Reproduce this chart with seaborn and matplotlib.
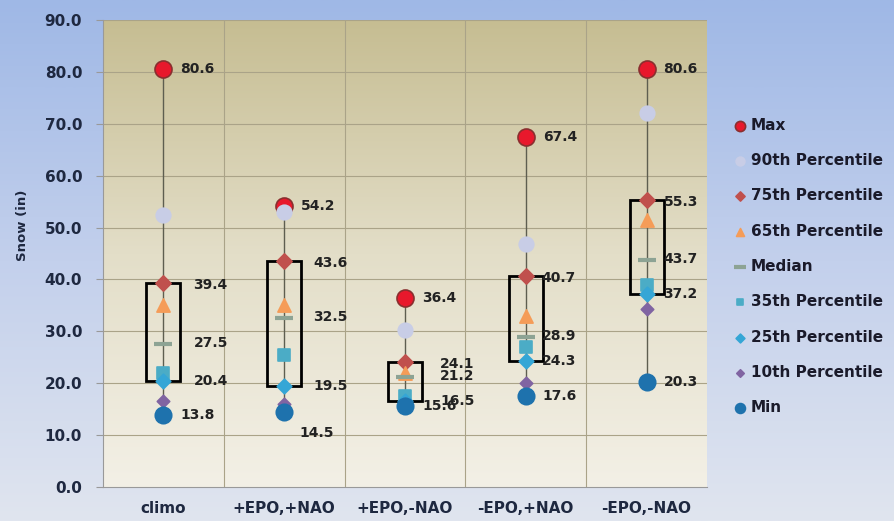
import numpy as np
import pandas as pd
import matplotlib
matplotlib.use("Agg")
import matplotlib.pyplot as plt
import seaborn as sns
from matplotlib.colors import LinearSegmentedColormap

categories = ["climo", "+EPO,+NAO", "+EPO,-NAO", "-EPO,+NAO", "-EPO,-NAO"]
max_vals = [80.6, 54.2, 36.4, 67.4, 80.6]
p90_vals = [52.5, 53.0, 30.3, 46.8, 72.0]
p75_vals = [39.4, 43.6, 24.1, 40.7, 55.3]
p65_vals = [35.0, 35.0, 22.0, 33.0, 51.5]
median_vals = [27.5, 32.5, 21.2, 28.9, 43.7]
p35_vals = [22.0, 25.5, 17.5, 27.0, 39.0]
p25_vals = [20.4, 19.5, 16.5, 24.3, 37.2]
p10_vals = [16.5, 16.0, 16.0, 20.0, 34.3]
min_vals = [13.8, 14.5, 15.6, 17.6, 20.3]
yticks = [0, 10, 20, 30, 40, 50, 60, 70, 80, 90]

series = [
    ("Max", max_vals, "o", "#e8182c", "#8a2f2f", 150),
    ("90th Percentile", p90_vals, "o", "#c8cde6", "#c8cde6", 110),
    ("75th Percentile", p75_vals, "D", "#c0504d", "#c0504d", 60),
    ("65th Percentile", p65_vals, "^", "#f59c58", "#f59c58", 90),
    ("Median", median_vals, "_", "#8da394", "#8da394", 180),
    ("35th Percentile", p35_vals, "s", "#4bacc6", "#4bacc6", 70),
    ("25th Percentile", p25_vals, "D", "#35a6d6", "#35a6d6", 55),
    ("10th Percentile", p10_vals, "D", "#8064a2", "#8064a2", 40),
    ("Min", min_vals, "o", "#1e72ad", "#1e72ad", 140),
]

W, H = 894, 521
fig = plt.figure(figsize=(W / 100, H / 100), dpi=100)

# figure gradient background
bg = fig.add_axes([0, 0, 1, 1], zorder=-10)
cmap_fig = LinearSegmentedColormap.from_list("f", ["#9fb8e6", "#c3d0ec", "#e0e5ef"])
bg.imshow(np.linspace(0, 1, 256).reshape(-1, 1), aspect="auto", cmap=cmap_fig,
          extent=[0, 1, 0, 1])
bg.axis("off")

ax = fig.add_axes([103 / W, 1 - 487 / H, 604 / W, 467 / H])
ax.set_facecolor("none")
n = len(categories)
pos = np.arange(n)
cmap_ax = LinearSegmentedColormap.from_list("a", ["#c6bd92", "#e3dec8", "#f3f0e6"])
ax.imshow(np.linspace(0, 1, 256).reshape(-1, 1), aspect="auto", cmap=cmap_ax,
          extent=[-0.5, n - 0.5, 0, 90], zorder=0)

ax.set_xlim(-0.5, n - 0.5)
ax.set_ylim(0, 90)
for y in yticks[1:]:
    ax.axhline(y, color="#aaa388", lw=0.8, zorder=1)
for b in np.arange(0.5, n - 0.5, 1):
    ax.axvline(b, color="#aaa388", lw=0.8, zorder=1)

# min-max line
ax.vlines(pos, min_vals, max_vals, color="#5e5e50", lw=1.0, zorder=2)
# box 25-75
ax.bar(pos, np.array(p75_vals) - np.array(p25_vals), bottom=p25_vals, width=0.28,
       fill=False, edgecolor="black", linewidth=2, zorder=3)

for name, vals, mk, fc, ec, s in series:
    df = pd.DataFrame({"x": pos, "y": vals})
    if mk == "_":
        sns.scatterplot(data=df, x="x", y="y", marker=mk, s=s, color=fc,
                        linewidth=3, ax=ax, label=name, zorder=4)
    else:
        sns.scatterplot(data=df, x="x", y="y", marker=mk, s=s, color=fc,
                        edgecolor=ec, linewidth=1.2, ax=ax, label=name, zorder=4)

# data labels (offsets in pixels)
box_dx = [30, 29, 35, 16, 17]
lab_kw = dict(textcoords="offset points", fontsize=10, fontweight="bold",
              color="#222222", va="center", ha="left", zorder=6)
px = 0.72
for i in range(n):
    ax.annotate(f"{max_vals[i]:.1f}", (pos[i], max_vals[i]), xytext=(17 * px, 0), **lab_kw)
    ax.annotate(f"{p75_vals[i]:.1f}", (pos[i], p75_vals[i]), xytext=(box_dx[i] * px, -2 * px), **lab_kw)
    ax.annotate(f"{median_vals[i]:.1f}", (pos[i], median_vals[i]), xytext=(box_dx[i] * px, 1 * px), **lab_kw)
    ax.annotate(f"{p25_vals[i]:.1f}", (pos[i], p25_vals[i]), xytext=(box_dx[i] * px, 0), **lab_kw)
    dy_min = -21 if i == 1 else 0
    dx_min = 15 if i == 1 else 17
    ax.annotate(f"{min_vals[i]:.1f}", (pos[i], min_vals[i]), xytext=(dx_min * px, dy_min * px), **lab_kw)

ax.set_xticks(pos)
ax.set_xticklabels(categories, fontsize=11, fontweight="bold", color="#1e2840")
ax.set_yticks(yticks)
ax.set_yticklabels([f"{v:.1f}" for v in yticks], fontsize=11, fontweight="bold", color="#1e2840")
ax.tick_params(axis="x", length=0, pad=10)
ax.tick_params(axis="y", length=5, color="#999999", pad=10)
ax.set_xlabel("")
ax.set_ylabel("Snow (in)", fontsize=9.5, fontweight="bold", color="#1e2840", labelpad=6)
ax.yaxis.set_label_coords(-0.123, 0.56)
for sp in ["top", "right"]:
    ax.spines[sp].set_visible(False)
for sp in ["left", "bottom"]:
    ax.spines[sp].set_color("#999999")

handles, labels = ax.get_legend_handles_labels()
ax.get_legend().remove()
leg = fig.legend(handles, labels, loc="upper left", bbox_to_anchor=(720 / W, 1 - 104 / H),
                 frameon=False, markerscale=0.6, handlelength=0.8, handletextpad=0.3,
                 labelspacing=1.33, prop={"size": 11, "weight": "bold"})
for t in leg.get_texts():
    t.set_color("#1a1a2a")

fig.savefig("out.png", dpi=100)
